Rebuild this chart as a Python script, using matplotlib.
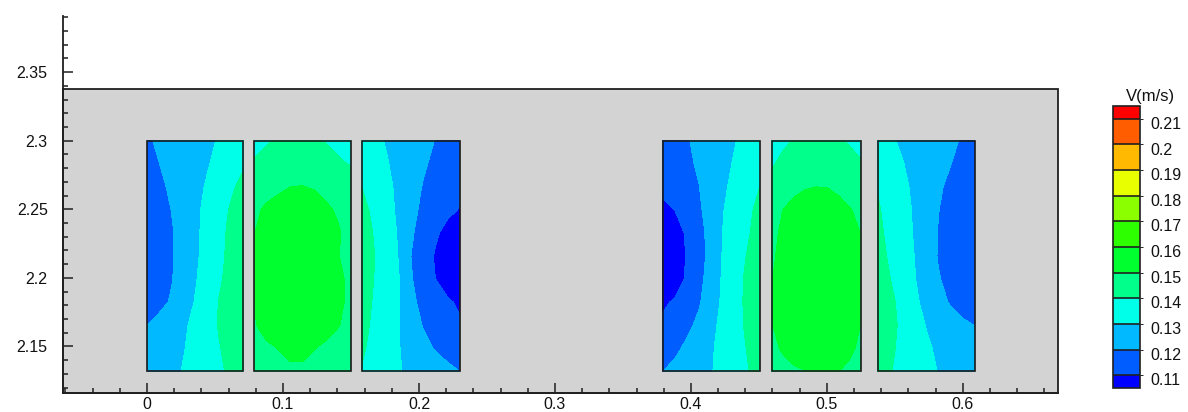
import numpy as np
import matplotlib
matplotlib.use("Agg")
import matplotlib.pyplot as plt
from matplotlib.colors import ListedColormap, BoundaryNorm
from matplotlib.patches import Rectangle
from matplotlib.ticker import MultipleLocator, FuncFormatter
from matplotlib.transforms import blended_transform_factory, offset_copy

plt.rcParams['font.family'] = ['Liberation Sans', 'DejaVu Sans']

# ---- contour levels and band colours (V in m/s) ----
levels = [0.11, 0.12, 0.13, 0.14, 0.15, 0.16, 0.17, 0.18, 0.19, 0.20, 0.21]
band_colors = ['#005DFF', '#00B9FF', '#00FFE8', '#00FF8B', '#00FF2E',
               '#2EFF00', '#8BFF00', '#E8FF00', '#FFB900', '#FF5D00']
under_color = '#0000FF'
over_color = '#FF0000'
legend_title = 'V(m/s)'

# ---- sampling grid inside each block: fraction of width, fraction of height from top ----
col_frac = [0.0, 0.125, 0.25, 0.375, 0.5, 0.625, 0.75, 0.875, 1.0]
row_frac = [0.0, 0.1, 0.2, 0.3, 0.4, 0.5, 0.6, 0.7, 0.8, 0.9, 1.0]

# ---- velocity samples per block, rows from top to bottom ----
v_block1 = [
    [0.1191, 0.1210, 0.1228, 0.1247, 0.1266, 0.1284, 0.1306, 0.1341, 0.1377],
    [0.1175, 0.1199, 0.1223, 0.1246, 0.1270, 0.1293, 0.1323, 0.1355, 0.1387],
    [0.1150, 0.1181, 0.1213, 0.1244, 0.1275, 0.1308, 0.1347, 0.1386, 0.1425],
    [0.1138, 0.1169, 0.1200, 0.1240, 0.1281, 0.1322, 0.1366, 0.1409, 0.1452],
    [0.1128, 0.1159, 0.1190, 0.1233, 0.1281, 0.1328, 0.1374, 0.1420, 0.1467],
    [0.1128, 0.1159, 0.1190, 0.1234, 0.1284, 0.1331, 0.1378, 0.1424, 0.1470],
    [0.1130, 0.1161, 0.1193, 0.1240, 0.1292, 0.1340, 0.1388, 0.1429, 0.1466],
    [0.1143, 0.1174, 0.1208, 0.1256, 0.1304, 0.1354, 0.1403, 0.1441, 0.1478],
    [0.1200, 0.1228, 0.1257, 0.1285, 0.1321, 0.1364, 0.1406, 0.1444, 0.1481],
    [0.1205, 0.1231, 0.1263, 0.1294, 0.1327, 0.1361, 0.1395, 0.1432, 0.1469],
    [0.1213, 0.1244, 0.1275, 0.1305, 0.1332, 0.1359, 0.1385, 0.1417, 0.1454],
]
v_block2 = [
    [0.1365, 0.1390, 0.1410, 0.1425, 0.1425, 0.1410, 0.1395, 0.1380, 0.1365],
    [0.1410, 0.1430, 0.1450, 0.1465, 0.1465, 0.1450, 0.1430, 0.1410, 0.1395],
    [0.1445, 0.1465, 0.1485, 0.1500, 0.1502, 0.1495, 0.1480, 0.1465, 0.1450],
    [0.1480, 0.1515, 0.1530, 0.1540, 0.1540, 0.1530, 0.1510, 0.1490, 0.1475],
    [0.1497, 0.1540, 0.1555, 0.1565, 0.1565, 0.1555, 0.1540, 0.1506, 0.1470],
    [0.1497, 0.1545, 0.1560, 0.1570, 0.1570, 0.1560, 0.1540, 0.1501, 0.1470],
    [0.1497, 0.1545, 0.1560, 0.1570, 0.1570, 0.1560, 0.1545, 0.1520, 0.1475],
    [0.1497, 0.1545, 0.1560, 0.1570, 0.1570, 0.1560, 0.1545, 0.1520, 0.1475],
    [0.1493, 0.1530, 0.1545, 0.1555, 0.1555, 0.1545, 0.1530, 0.1503, 0.1470],
    [0.1470, 0.1485, 0.1502, 0.1515, 0.1515, 0.1502, 0.1485, 0.1470, 0.1460],
    [0.1460, 0.1470, 0.1480, 0.1490, 0.1490, 0.1480, 0.1470, 0.1460, 0.1450],
]
v_block3 = [
    [0.1344, 0.1319, 0.1294, 0.1270, 0.1246, 0.1222, 0.1198, 0.1166, 0.1135],
    [0.1356, 0.1331, 0.1306, 0.1276, 0.1244, 0.1212, 0.1180, 0.1149, 0.1118],
    [0.1398, 0.1361, 0.1322, 0.1280, 0.1236, 0.1195, 0.1167, 0.1140, 0.1120],
    [0.1426, 0.1380, 0.1333, 0.1283, 0.1224, 0.1182, 0.1151, 0.1121, 0.1095],
    [0.1444, 0.1394, 0.1344, 0.1291, 0.1213, 0.1161, 0.1115, 0.1069, 0.1022],
    [0.1454, 0.1402, 0.1350, 0.1296, 0.1200, 0.1146, 0.1091, 0.1037, 0.0983],
    [0.1446, 0.1398, 0.1350, 0.1304, 0.1208, 0.1152, 0.1100, 0.1048, 0.0996],
    [0.1436, 0.1391, 0.1346, 0.1303, 0.1220, 0.1176, 0.1145, 0.1114, 0.1083],
    [0.1425, 0.1384, 0.1343, 0.1302, 0.1245, 0.1195, 0.1167, 0.1140, 0.1112],
    [0.1411, 0.1376, 0.1340, 0.1304, 0.1267, 0.1229, 0.1193, 0.1166, 0.1138],
    [0.1395, 0.1365, 0.1336, 0.1306, 0.1283, 0.1262, 0.1242, 0.1221, 0.1199],
]
v_block4 = [
    [0.1144, 0.1169, 0.1194, 0.1220, 0.1246, 0.1272, 0.1298, 0.1329, 0.1360],
    [0.1134, 0.1159, 0.1184, 0.1212, 0.1245, 0.1278, 0.1310, 0.1341, 0.1373],
    [0.1125, 0.1150, 0.1175, 0.1199, 0.1243, 0.1287, 0.1326, 0.1363, 0.1400],
    [0.1075, 0.1102, 0.1145, 0.1188, 0.1241, 0.1298, 0.1340, 0.1382, 0.1423],
    [0.1000, 0.1057, 0.1114, 0.1170, 0.1235, 0.1305, 0.1348, 0.1391, 0.1435],
    [0.0991, 0.1049, 0.1107, 0.1165, 0.1233, 0.1310, 0.1358, 0.1406, 0.1454],
    [0.0995, 0.1055, 0.1114, 0.1174, 0.1244, 0.1315, 0.1367, 0.1419, 0.1460],
    [0.1085, 0.1111, 0.1152, 0.1192, 0.1256, 0.1319, 0.1371, 0.1419, 0.1463],
    [0.1118, 0.1149, 0.1180, 0.1220, 0.1277, 0.1327, 0.1371, 0.1416, 0.1460],
    [0.1144, 0.1181, 0.1218, 0.1254, 0.1291, 0.1329, 0.1367, 0.1405, 0.1442],
    [0.1199, 0.1224, 0.1248, 0.1272, 0.1296, 0.1328, 0.1362, 0.1396, 0.1430],
]
v_block5 = [
    [0.1360, 0.1385, 0.1405, 0.1425, 0.1435, 0.1425, 0.1410, 0.1390, 0.1370],
    [0.1392, 0.1420, 0.1440, 0.1460, 0.1470, 0.1465, 0.1450, 0.1430, 0.1410],
    [0.1440, 0.1460, 0.1480, 0.1495, 0.1500, 0.1498, 0.1485, 0.1465, 0.1450],
    [0.1460, 0.1501, 0.1525, 0.1540, 0.1545, 0.1540, 0.1525, 0.1505, 0.1480],
    [0.1480, 0.1515, 0.1545, 0.1560, 0.1565, 0.1560, 0.1545, 0.1520, 0.1499],
    [0.1485, 0.1530, 0.1555, 0.1570, 0.1575, 0.1570, 0.1555, 0.1530, 0.1501],
    [0.1497, 0.1540, 0.1560, 0.1575, 0.1580, 0.1575, 0.1560, 0.1535, 0.1502],
    [0.1498, 0.1540, 0.1560, 0.1575, 0.1580, 0.1575, 0.1560, 0.1535, 0.1502],
    [0.1497, 0.1535, 0.1555, 0.1570, 0.1575, 0.1570, 0.1555, 0.1530, 0.1499],
    [0.1485, 0.1508, 0.1530, 0.1545, 0.1550, 0.1545, 0.1530, 0.1510, 0.1490],
    [0.1470, 0.1480, 0.1490, 0.1499, 0.1508, 0.1506, 0.1501, 0.1490, 0.1480],
]
v_block6 = [
    [0.1336, 0.1311, 0.1289, 0.1270, 0.1252, 0.1233, 0.1214, 0.1193, 0.1168],
    [0.1354, 0.1329, 0.1304, 0.1279, 0.1253, 0.1228, 0.1202, 0.1171, 0.1140],
    [0.1395, 0.1358, 0.1321, 0.1284, 0.1249, 0.1213, 0.1180, 0.1149, 0.1118],
    [0.1409, 0.1370, 0.1331, 0.1291, 0.1246, 0.1202, 0.1170, 0.1139, 0.1108],
    [0.1420, 0.1378, 0.1337, 0.1294, 0.1244, 0.1196, 0.1166, 0.1136, 0.1106],
    [0.1432, 0.1388, 0.1344, 0.1300, 0.1244, 0.1194, 0.1164, 0.1134, 0.1104],
    [0.1450, 0.1402, 0.1354, 0.1306, 0.1256, 0.1206, 0.1174, 0.1144, 0.1114],
    [0.1475, 0.1423, 0.1371, 0.1319, 0.1273, 0.1232, 0.1191, 0.1154, 0.1116],
    [0.1471, 0.1427, 0.1382, 0.1338, 0.1296, 0.1270, 0.1245, 0.1219, 0.1198],
    [0.1449, 0.1415, 0.1381, 0.1347, 0.1314, 0.1285, 0.1260, 0.1235, 0.1210],
    [0.1433, 0.1405, 0.1378, 0.1351, 0.1324, 0.1297, 0.1272, 0.1247, 0.1222],
]
blocks = [v_block1, v_block2, v_block3, v_block4, v_block5, v_block6]

# ---- geometry (m) ----
block_left = [0.0, 0.0787, 0.1581, 0.3794, 0.4596, 0.5375]
block_right = [0.0706, 0.1500, 0.2301, 0.4507, 0.5250, 0.6088]
block_top = 2.300
block_bottom = 2.132
domain_top = 2.338
x_range = (-0.0618, 0.6700)
y_range = (2.116, 2.391)

label_size = 11.5

# ---- figure ----
fig = plt.figure(figsize=(11.88, 4.12), dpi=100)
fig.patch.set_facecolor('white')
ax = fig.add_axes([63 / 1188, 19 / 412, 995 / 1188, 377 / 412])
ax.set_xlim(*x_range)
ax.set_ylim(*y_range)
ax.set_facecolor('white')

# fluid domain
ax.add_patch(Rectangle((x_range[0], y_range[0]), x_range[1] - x_range[0],
                       domain_top - y_range[0], facecolor='#D3D3D3',
                       edgecolor='#202020', linewidth=1.3, zorder=0.5,
                       clip_on=False))

cmap = ListedColormap(band_colors)
cmap.set_under(under_color)
cmap.set_over(over_color)
norm = BoundaryNorm(levels, cmap.N)

cs = None
for vals, x0, x1 in zip(blocks, block_left, block_right):
    z = np.array(vals)[::-1]
    xs = x0 + np.array(col_frac) * (x1 - x0)
    ys = (block_top - np.array(row_frac) * (block_top - block_bottom))[::-1]
    cs = ax.contourf(xs, ys, z, levels=levels, cmap=cmap, norm=norm,
                     extend='both', zorder=2, antialiased=False)
    ax.add_patch(Rectangle((x0, block_bottom), x1 - x0, block_top - block_bottom,
                           fill=False, edgecolor='#1a1a1a', linewidth=1.2,
                           zorder=3))

# axes styling
for side in ('top', 'right'):
    ax.spines[side].set_visible(False)
for side in ('left', 'bottom'):
    ax.spines[side].set_linewidth(1.3)
    ax.spines[side].set_color('#202020')
ax.xaxis.set_major_locator(MultipleLocator(0.1))
ax.xaxis.set_minor_locator(MultipleLocator(0.02))
ax.yaxis.set_major_locator(MultipleLocator(0.05))
ax.yaxis.set_minor_locator(MultipleLocator(0.01))
fmt = FuncFormatter(lambda v, p: f"{round(v, 4) + 0:g}")
ax.xaxis.set_major_formatter(fmt)
ax.yaxis.set_major_formatter(fmt)
ax.tick_params(which='both', direction='in', top=False, right=False,
               width=1.1, color='#202020', labelsize=label_size,
               labelcolor='#111111')
ax.tick_params(which='major', length=7)
ax.tick_params(which='minor', length=3.5)
ax.tick_params(axis='y', which='major', pad=11)
ax.tick_params(axis='x', which='major', pad=3)

# ---- legend ----
cax = fig.add_axes([1113 / 1188, 24 / 412, 27 / 1188, 282 / 412])
cbar = fig.colorbar(cs, cax=cax, extendrect=True, extendfrac=0.05,
                    drawedges=True)
cbar.outline.set_linewidth(1.2)
cbar.outline.set_edgecolor('#202020')
cbar.dividers.set_color('#202020')
cbar.dividers.set_linewidth(1.2)
cbar.set_ticks([])
cax.tick_params(length=0)
trans = offset_copy(blended_transform_factory(cax.transAxes, cax.transData),
                    fig=fig, y=-4, units='points')
for lv in levels:
    cax.text(1.37, lv, f"{lv:g}", transform=trans, ha='left', va='center',
             fontsize=label_size, color='#111111')
fig.text(1150 / 1188, 1 - 97 / 412, legend_title, ha='center', va='center',
         fontsize=label_size + 0.5, color='#111111')

fig.savefig('out.png', dpi=100)
